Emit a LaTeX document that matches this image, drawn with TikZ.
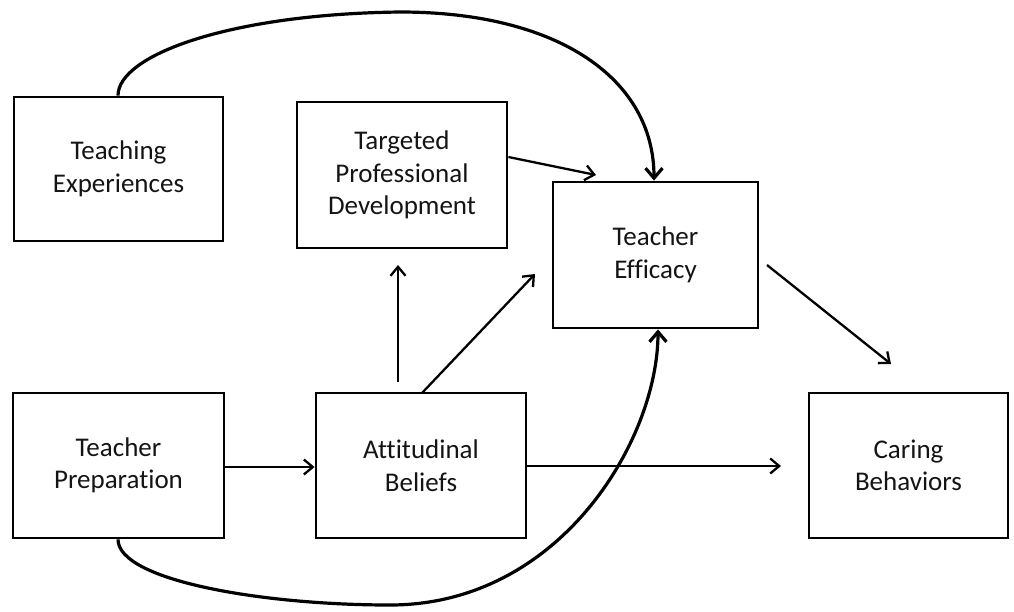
\documentclass[tikz,border=0pt]{standalone}
\usepackage{fontspec}
\setmainfont[Ligatures={NoCommon}]{Carlito}
\usetikzlibrary{arrows.meta}
\tikzset{
  box/.style={draw=black, line width=2.8pt, rectangle, align=center,
    font=\fontsize{27}{32.5}\selectfont, text=black!92, inner sep=0pt},
  conn/.style={line width=2.3pt, -{Straight Barb[length=9pt,width=15pt]}},
  bigcurve/.style={line width=3.2pt, -{Straight Barb[length=10pt,width=17pt]}}
}
\begin{document}
\begin{tikzpicture}[x=1pt,y=-1pt]
\useasboundingbox (0,0) rectangle (1014,611);
\node[box, minimum width=209pt, minimum height=144pt] (te) at (118.5,169) {Teaching\\Experiences};
\node[box, minimum width=210pt, minimum height=146pt] (tpd) at (402,175) {Targeted\\Professional\\Development};
\node[box, minimum width=205pt, minimum height=146pt] (eff) at (655.5,255) {Teacher\\Efficacy};
\node[box, minimum width=211pt, minimum height=145pt] (tp) at (118.5,465.5) {Teacher\\Preparation};
\node[box, minimum width=210pt, minimum height=145pt] (ab) at (421,465.5) {Attitudinal\\Beliefs};
\node[box, minimum width=199pt, minimum height=145pt] (cb) at (908.5,465.5) {Caring\\Behaviors};

% free ends
\coordinate (tpdEnd) at (596,175);
\coordinate (upStart) at (398,382);
\coordinate (upEnd) at (398,265);
\coordinate (diagStart) at (422,393);
\coordinate (diagEnd) at (535,274);
\coordinate (abEnd) at (781,466);
\coordinate (effStart) at (767,265);
\coordinate (effEnd) at (891,364);
\coordinate (topPeak) at (400,12);
\coordinate (botLow) at (390,605);

\draw[conn] (tpd.east |- 0,157) -- (tpdEnd);
\draw[conn] (upStart) -- (upEnd);
\draw[conn] (diagStart) -- (diagEnd);
\draw[conn] (tp.east |- 0,467) -- (ab.west |- 0,467);
\draw[conn] (ab.east |- 0,466) -- (abEnd);
\draw[conn] (effStart) -- (effEnd);

\draw[bigcurve] (te.north -| 118,0) .. controls (118,55) and (230,14) .. (topPeak)
  .. controls (560,12) and (654,80) .. (eff.north -| 654,0);
\draw[bigcurve] (tp.south -| 118,0) .. controls (118,580) and (260,605) .. (botLow)
  .. controls (560,605) and (658,440) .. (eff.south -| 658,0);
\end{tikzpicture}
\end{document}
